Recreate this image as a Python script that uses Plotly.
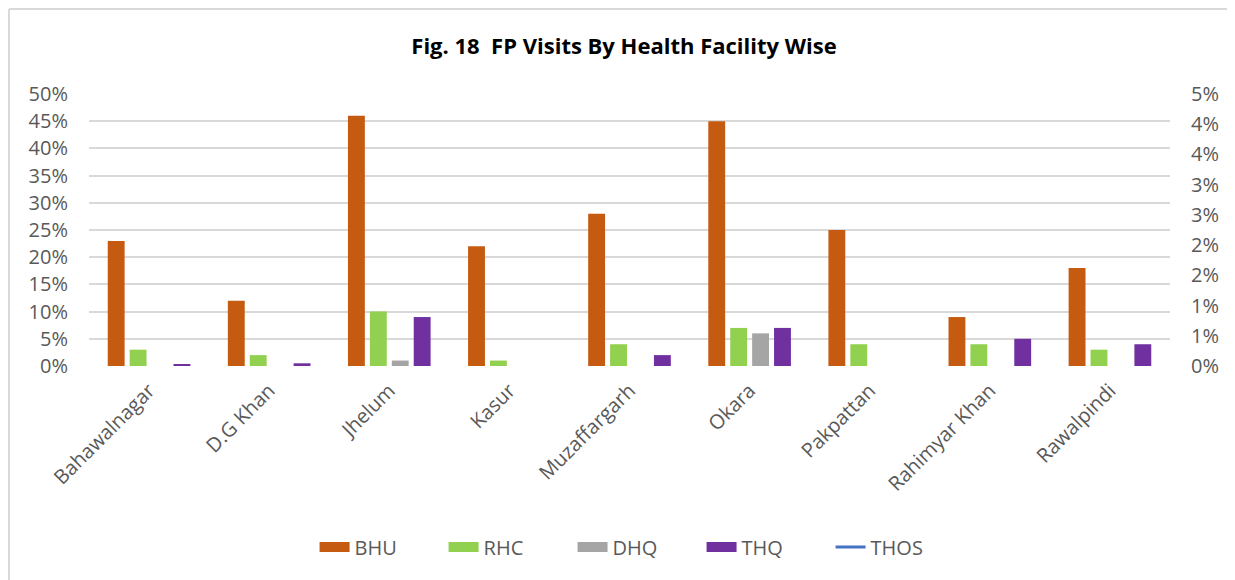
import plotly.graph_objects as go

districts = ["Bahawalnagar", "D.G Khan", "Jhelum", "Kasur", "Muzaffargarh",
             "Okara", "Pakpattan", "Rahimyar Khan", "Rawalpindi"]
bhu = [0.23, 0.12, 0.46, 0.22, 0.28, 0.45, 0.25, 0.09, 0.18]
rhc = [0.03, 0.02, 0.10, 0.01, 0.04, 0.07, 0.04, 0.04, 0.03]
dhq = [0.0, 0.0, 0.01, 0.0, 0.0, 0.06, 0.0, 0.0, 0.0]
thq = [0.002, 0.005, 0.09, 0.0, 0.02, 0.07, 0.0, 0.05, 0.04]
thos = [None] * 9

left_ticks = [i * 0.05 for i in range(11)]
right_ticks = [i * 0.005 for i in range(10)]


def excel_pct(v):
    p = round(v * 100, 6)
    return f"{int(p + 0.5)}%"


font_family = "'Open Sans', sans-serif"
grey = "#595959"

fig = go.Figure()
series = [("BHU", bhu, "#C55A11"), ("RHC", rhc, "#92D050"),
          ("DHQ", dhq, "#A5A5A5"), ("THQ", thq, "#7030A0")]
for name, vals, col in series:
    fig.add_trace(go.Bar(x=districts, y=vals, name=name, marker_color=col,
                         marker_line_width=0, showlegend=False,
                         legendgroup=name))
# legend proxies drawn as wide swatches
for name, vals, col in series:
    fig.add_trace(go.Scatter(x=[districts[0]], y=[None], name=name, mode="lines",
                             line=dict(color=col, width=14), legendgroup=name,
                             hoverinfo="skip"))
fig.add_trace(go.Scatter(x=districts, y=thos, name="THOS", mode="lines",
                         line=dict(color="#4472C4", width=3), yaxis="y2"))

# page body keeps its default 8px margin; figure sized to fit the window
fig.update_layout(
    width=1227, height=572,
    margin=dict(l=81, r=65, t=86, b=214),
    paper_bgcolor="white", plot_bgcolor="white",
    font=dict(family=font_family, color=grey, size=20),
    hovermode=False,
    title=dict(text="<b>Fig. 18  FP Visits By Health Facility Wise</b>",
               x=(624 - 8) / 1227, xanchor="center", y=1 - 38 / 572, yanchor="middle",
               font=dict(size=22, color="#000000", family=font_family)),
    barmode="group", bargap=0.27, bargroupgap=0.23,
    showlegend=True,
    legend=dict(orientation="h", x=0.507, xanchor="center", y=-0.665, yanchor="middle",
                font=dict(size=20, color=grey), traceorder="normal",
                itemwidth=30, entrywidth=84, entrywidthmode="pixels"),
    xaxis=dict(tickangle=-45, showgrid=False, showline=False, zeroline=False,
               mirror=False, tickfont=dict(size=20, color=grey), ticks="",
               ticklabelstandoff=8),
    yaxis=dict(range=[0, 0.5], tickvals=left_ticks,
               ticktext=[f"{round(v*100)}%" for v in left_ticks],
               showgrid=True, gridcolor="#d9d9d9", gridwidth=2, showline=False,
               zeroline=False, mirror=False, tickfont=dict(size=20, color=grey), ticks="",
               ticklabelstandoff=20),
    yaxis2=dict(range=[0, 0.045], overlaying="y", side="right", anchor="x",
                tickvals=right_ticks,
                ticktext=[excel_pct(v) for v in right_ticks],
                showgrid=False, zeroline=False, showline=False, mirror=False,
                linecolor="rgba(0,0,0,0)", linewidth=0,
                tickfont=dict(size=20, color=grey), ticks="",
                ticklabelstandoff=20),
    shapes=[
        dict(type="line", xref="paper", yref="paper",
             x0=-80 / 1081, x1=-80 / 1081, y0=1.3125, y1=-0.9,
             line=dict(color="#d9d9d9", width=2)),
        dict(type="line", xref="paper", yref="paper",
             x0=-80 / 1081, x1=1.1, y0=1.3125, y1=1.3125,
             line=dict(color="#d9d9d9", width=2)),
    ],
)

fig.write_html("out.html", config={"displayModeBar": False})
